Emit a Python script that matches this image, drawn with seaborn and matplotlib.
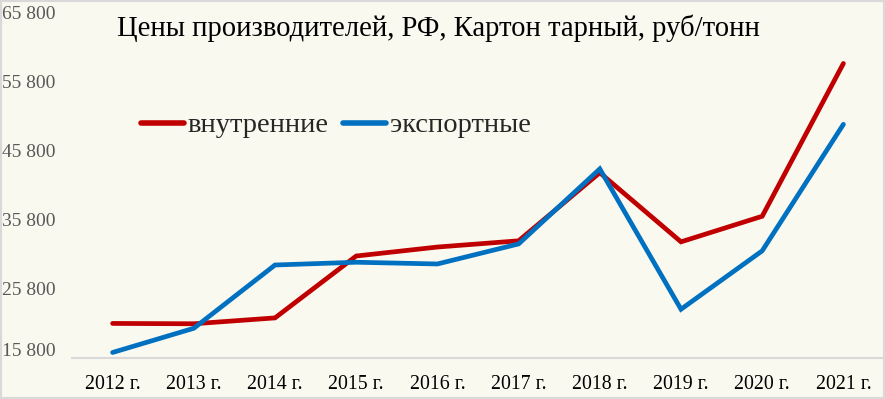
import matplotlib
matplotlib.use("Agg")
import matplotlib.pyplot as plt
import matplotlib.transforms as mtransforms
from matplotlib.patches import Rectangle
import seaborn as sns
import pandas as pd

years = ["2012 г.", "2013 г.", "2014 г.", "2015 г.", "2016 г.",
         "2017 г.", "2018 г.", "2019 г.", "2020 г.", "2021 г."]
domestic = [20800, 20750, 21600, 30550, 31850, 32750, 42600, 32600, 36300, 58400]
export = [16600, 20100, 29250, 29650, 29400, 32300, 43150, 22850, 31300, 49600]
series_names = ["внутренние", "экспортные"]
yticks = [15800, 25800, 35800, 45800, 55800, 65800]
title = "Цены производителей, РФ, Картон тарный, руб/тонн"

df = pd.DataFrame({
    "year": list(range(len(years))) * 2,
    "value": domestic + export,
    "series": [series_names[0]] * len(years) + [series_names[1]] * len(years),
})

sns.set_theme(style="white")
plt.rcParams["font.family"] = ["Liberation Serif", "DejaVu Serif"]

bg = "#F9F9EF"
fig = plt.figure(figsize=(8.85, 3.99), dpi=100, facecolor=bg)
ax = fig.add_axes([72 / 885, 1 - 358 / 399, (884 - 72) / 885, (358 - 12.3) / 399])
ax.set_facecolor(bg)

sns.lineplot(data=df, x="year", y="value", hue="series",
             palette={series_names[0]: "#C00000", series_names[1]: "#0070C0"},
             linewidth=3.4, ax=ax, legend=True)
for ln in ax.lines:
    ln.set_solid_capstyle("round")
    ln.set_solid_joinstyle("miter")

ax.set_xlim(-0.5, len(years) - 0.5)
ax.set_ylim(yticks[0], yticks[-1])
ax.set_xticks(range(len(years)))
ax.set_xticklabels(years, fontsize=14.3, color="#000000")
ax.set_yticks(yticks)
ax.set_yticklabels([f"{v:,}".replace(",", " ") for v in yticks], fontsize=14, color="#595959")
ax.tick_params(axis="both", length=0)
ax.tick_params(axis="y", pad=12)
ax.tick_params(axis="x", pad=12)
ax.set_xlabel("")
ax.set_ylabel("")
for s in ["top", "right", "left"]:
    ax.spines[s].set_visible(False)
ax.spines["bottom"].set_color("#D9D9D9")
ax.spines["bottom"].set_linewidth(1.5)

# shift lowest y label upward as in reference
lbl = ax.get_yticklabels()[0]
lbl.set_transform(lbl.get_transform() + mtransforms.ScaledTranslation(0, 9 / 100, fig.dpi_scale_trans))

leg = ax.legend(loc="center left", bbox_to_anchor=(141 / 885, 1 - 125.5 / 399),
                bbox_transform=fig.transFigure, ncol=2, frameon=False,
                fontsize=20.5, handlelength=1.5, handletextpad=0.14,
                columnspacing=0.5, borderaxespad=0, borderpad=0)
for h in leg.get_lines():
    h.set_linewidth(4)
    h.set_solid_capstyle("round")

fig.text(117 / 885, 1 - 28 / 399, title, fontsize=20.6, ha="left", va="center", color="#000000")

fig.patches.append(Rectangle((0, 0), 1, 1, transform=fig.transFigure, fill=False,
                             edgecolor="#D9D9D9", linewidth=3, zorder=10))

fig.savefig("out.png", dpi=100, facecolor=bg)
